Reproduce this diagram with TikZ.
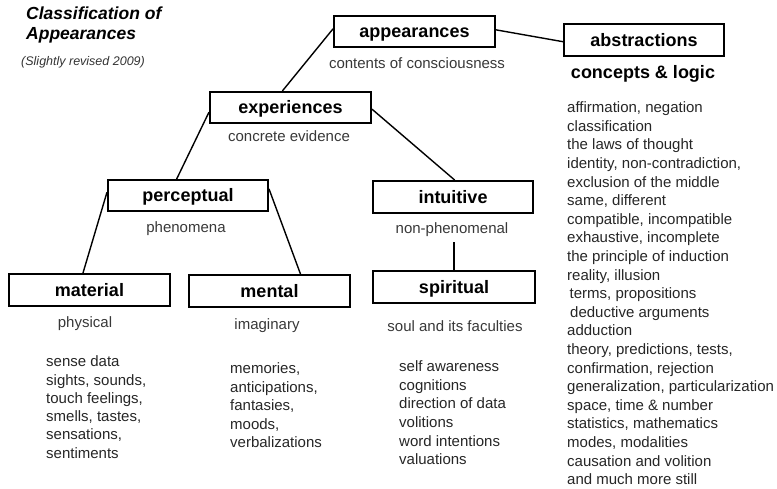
\documentclass[tikz,border=0pt]{standalone}
\usepackage{fontspec}
\setmainfont{Liberation Sans}
\usetikzlibrary{calc}
\begin{document}
\begin{tikzpicture}[x=1pt,y=-1pt,
  box/.style={draw, line width=1.8pt, inner sep=0pt, text=black,
    text height=16pt, text depth=3.6pt,
    font=\fontsize{18}{21}\selectfont\bfseries},
  sub/.style={inner sep=0pt, text=black!78, font=\fontsize{15}{18}\selectfont},
  list/.style={anchor=north west, align=left, inner sep=0pt, text=black!85},
  link/.style={line width=1.4pt, black}]
\useasboundingbox (0,0) rectangle (777,488);

% title
\node[anchor=north west, align=left, inner sep=0pt,
      font=\fontsize{17.5}{20}\selectfont\bfseries\itshape] (title) at (26,5)
  {\strut Classification of\\Appearances};
\node[anchor=west, inner sep=0pt, text=black!80,
      font=\fontsize{12.5}{15}\selectfont\itshape] (rev) at (21,62)
  {(Slightly revised 2009)};

% boxes
\node[box, minimum width=161.2pt, minimum height=31.2pt] (app) at (414.5,31.5) {appearances};
\node[box, minimum width=160.2pt, minimum height=32.2pt] (abs) at (644,40) {abstractions};
\node[box, minimum width=161.2pt, minimum height=31.2pt] (exp) at (290.5,107.5) {experiences};
\node[box, minimum width=160.2pt, minimum height=31.2pt] (per) at (188,195.5) {perceptual};
\node[box, minimum width=160.2pt, minimum height=32.2pt] (int) at (453,197) {intuitive};
\node[box, minimum width=161.2pt, minimum height=32.2pt] (mat) at (89.5,290) {material};
\node[box, minimum width=161.2pt, minimum height=32.2pt] (men) at (269.5,291) {mental};
\node[box, minimum width=162.2pt, minimum height=32.2pt] (spi) at (454,287) {spiritual};

% captions under the boxes
\node[sub] (appsub) at (417,63) {contents of consciousness};
\node[inner sep=0pt, font=\fontsize{18}{21}\selectfont\bfseries] (abssub) at (643,74) {concepts \& logic};
\node[sub] (expsub) at (289,136) {concrete evidence};
\node[sub] (persub) at (186,229) {phenomena};
\node[sub] (nph) at (452,230) {non-phenomenal};
\node[sub] (matsub) at (85,324) {physical};
\node[sub] (mensub) at (267,326) {imaginary};
\node[sub] (spisub) at (455,326) {soul and its faculties};

% lists
\node[list, font=\fontsize{15}{18.3}\selectfont] (matlist) at (46,353.7)
  {\strut sense data\\sights, sounds,\\touch feelings,\\smells, tastes,\\sensations,\\sentiments};
\node[list, font=\fontsize{15}{18.5}\selectfont] (menlist) at (230,360.5)
  {\strut memories,\\anticipations,\\fantasies,\\moods,\\verbalizations};
\node[list, font=\fontsize{15}{18.6}\selectfont] (spilist) at (399,358.5)
  {\strut self awareness\\cognitions\\direction of data\\volitions\\word intentions\\valuations};
\node[list, font=\fontsize{15}{18.6}\selectfont] (abslist) at (567,99.5)
  {\strut affirmation, negation\\classification\\the laws of thought\\
   identity, non-contradiction,\\exclusion of the middle\\same, different\\
   compatible, incompatible\\exhaustive, incomplete\\the principle of induction\\
   reality, illusion\\\hspace*{2.5pt}terms, propositions\\\hspace*{3pt}deductive arguments\\
   adduction\\theory, predictions, tests,\\confirmation, rejection\\
   generalization, particularization\\space, time \& number\\statistics, mathematics\\
   modes, modalities\\causation and volition\\and much more still};

% connectors
\draw[link] ($(app.north west)!0.42!(app.south west)$) -- ($(exp.north west)!0.45!(exp.north east)$);
\draw[link] ($(app.north east)!0.45!(app.south east)$) -- ($(abs.north west)!0.55!(abs.south west)$);
\draw[link] ($(exp.north west)!0.64!(exp.south west)$) -- ($(per.north west)!0.43!(per.north east)$);
\draw[link] ($(exp.north east)!0.55!(exp.south east)$) -- ($(int.north west)!0.51!(int.north east)$);
\draw[link] ($(per.north west)!0.4!(per.south west)$) -- ($(mat.north west)!0.46!(mat.north east)$);
\draw[link] ($(per.north east)!0.3!(per.south east)$) -- ($(men.north west)!0.69!(men.north east)$);
\draw[link] ($(nph.south -| spi.north)+(0,5)$) -- (spi.north);
\end{tikzpicture}
\end{document}
